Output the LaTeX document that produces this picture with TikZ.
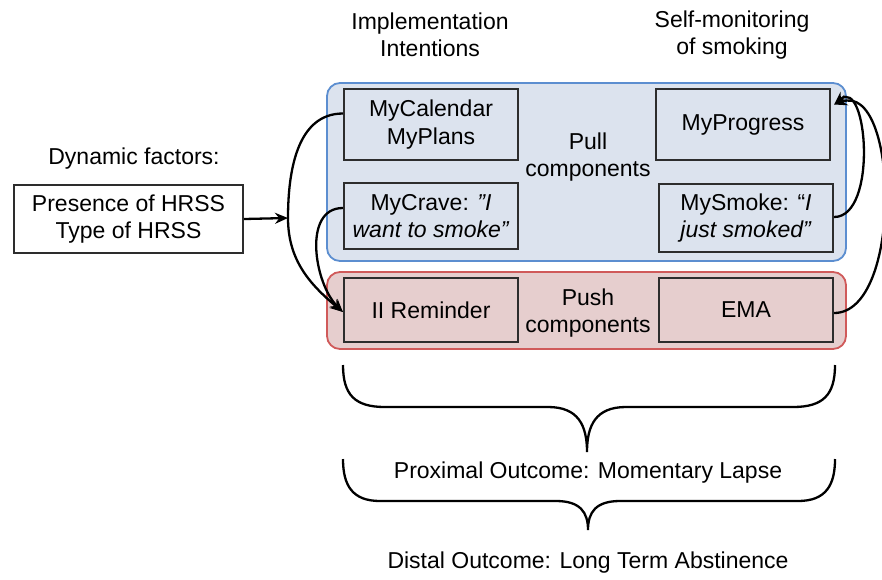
\documentclass[tikz,border=0pt]{standalone}
\usepackage{fontspec}
\setmainfont{Liberation Sans}
\usetikzlibrary{arrows.meta}
\definecolor{bluefill}{RGB}{220,227,238}
\definecolor{blueline}{RGB}{92,142,208}
\definecolor{redfill}{RGB}{230,206,206}
\definecolor{redline}{RGB}{208,90,90}
\definecolor{boxline}{RGB}{45,45,45}
\begin{document}
\begin{tikzpicture}[x=1pt,y=-1pt, font=\fontsize{23}{27.5}\selectfont,
  group/.style={rounded corners=13pt, line width=1.8pt, inner sep=0pt},
  inner/.style={draw=boxline, line width=2.2pt, minimum width=174pt, align=center, inner sep=0pt},
  lbl/.style={align=center, inner sep=0pt},
  conn/.style={line width=2.3pt, -{Stealth[length=13pt,width=11pt]}},
  bracestyle/.style={line width=2.3pt}]
\useasboundingbox (0,0) rectangle (882,579);

% containers
\node (pull) [group, draw=blueline, fill=bluefill, minimum width=519pt, minimum height=178pt] at (586.5,172) {};
\node (push) [group, draw=redline, fill=redfill, minimum width=519pt, minimum height=77pt] at (586.5,310.5) {};

% headers
\node (hii) [lbl] at (430,35) {Implementation\\Intentions};
\node (hsm) [lbl] at (732,35) {Self-monitoring\\of smoking};

% inner boxes
\node (cal) [inner, minimum height=71pt] at (431,124.5) {MyCalendar\\MyPlans};
\node (crave) [inner, minimum height=66pt] at (431,216) {MyCrave: \textit{"I}\\\textit{want to smoke"}};
\node (prog) [inner, minimum height=71pt] at (743,124.5) {MyProgress};
\node (smoke) [inner, minimum height=68pt] at (746,218) {MySmoke: “\textit{I}\\\textit{just smoked”}};
\node (rem) [inner, minimum height=64pt] at (431,310) {II Reminder};
\node (ema) [inner, minimum height=64pt] at (746,310) {EMA};

\node (pulllbl) [lbl] at (588,157) {Pull\\components};
\node (pushlbl) [lbl] at (588,313) {Push\\components};

% dynamic factors
\node (dyn) [lbl] at (134,159) {Dynamic factors:};
\node (hrss) [draw=boxline, line width=2.2pt, minimum width=229pt, minimum height=68pt, align=center, inner sep=0pt] at (128.5,219) {Presence of HRSS\\Type of HRSS};

\coordinate (L) at (288,218);
\draw[conn] (hrss.east) -- (L);

% left connectors
\draw[line width=2.3pt] ([yshift=11pt]cal.west) to[out=180,in=90] (L);
\draw[conn] (L) to[out=-90,in=140] ([yshift=-2pt]rem.west);
\draw[conn] ([yshift=8pt]crave.west) to[out=180,in=135] ([yshift=-2pt]rem.west);

% right connectors
\coordinate (pe) at ([xshift=3pt,yshift=20pt]prog.east);
\draw[conn] ([yshift=1pt]smoke.east) to[out=0,in=40] (pe);
\draw[conn] ([yshift=-3pt]ema.east) to[out=0,in=20,looseness=0.85] (pe);

% braces
\draw[bracestyle] (343,365) .. controls (343,395) and (355,407) .. (385,407) -- (548,407)
  .. controls (578,407) and (587,425) .. (587,452)
  .. controls (587,425) and (596,407) .. (626,407) -- (793,407)
  .. controls (823,407) and (835,395) .. (835,365);
\node (prox) [lbl] at (588,473) {Proximal Outcome: Momentary Lapse};

\draw[bracestyle] (343,459) .. controls (343,485) and (352,501) .. (380,501) -- (556,501)
  .. controls (580,501) and (588,512) .. (588,530)
  .. controls (588,512) and (596,501) .. (620,501) -- (798,501)
  .. controls (826,501) and (835,485) .. (835,459);
\node (dist) [lbl] at (588,563) {Distal Outcome: Long Term Abstinence};
\end{tikzpicture}
\end{document}
